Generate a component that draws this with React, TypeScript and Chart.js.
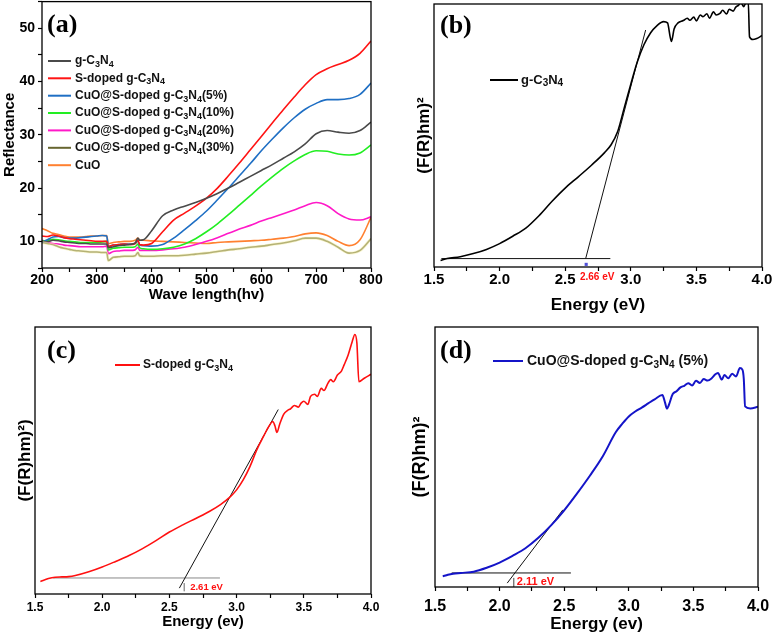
import React, { useEffect, useRef } from 'react';
import { Chart, registerables } from 'chart.js';

Chart.register(...registerables);

const FONT = '"Liberation Sans", Arial, Helvetica, sans-serif';
const SERIF = '"Liberation Serif", "Times New Roman", serif';
Chart.defaults.font.family = FONT;

// ---------------- Panel (a): reflectance ----------------
const waveX = [200, 210, 220, 230, 240, 250, 260, 270, 280, 290, 300, 310, 318, 321, 330, 340, 350, 360, 370, 375, 378, 385, 400, 420, 440, 460, 480, 500, 520, 540, 560, 580, 600, 620, 640, 660, 680, 700, 720, 740, 760, 780, 800];
const gC3N4 = [10.0, 9.9, 10.2, 10.1, 9.9, 9.8, 9.7, 9.6, 9.6, 9.5, 9.5, 9.5, 9.5, 8.8, 9.0, 9.2, 9.3, 9.4, 9.7, 10.6, 10.2, 10.3, 12.0, 14.8, 15.9, 16.6, 17.3, 18.1, 19.0, 20.0, 21.1, 22.2, 23.3, 24.4, 25.6, 26.8, 28.3, 30.2, 30.8, 30.5, 30.3, 30.8, 32.4];
const sDoped = [11.0, 10.9, 11.2, 11.0, 10.7, 10.5, 10.4, 10.3, 10.2, 10.1, 10.0, 10.0, 10.0, 9.0, 9.3, 9.4, 9.5, 9.4, 9.6, 10.2, 9.4, 9.3, 9.6, 11.8, 14.0, 15.3, 16.6, 18.1, 20.0, 22.3, 24.7, 27.2, 29.7, 32.2, 34.7, 37.1, 39.4, 41.3, 42.4, 43.2, 44.0, 45.3, 47.6];
const cuo5 = [9.8, 10.3, 10.8, 10.9, 10.7, 10.6, 10.6, 10.7, 10.8, 10.9, 11.0, 11.1, 11.0, 9.0, 9.3, 9.4, 9.5, 9.5, 9.6, 10.1, 9.3, 9.2, 9.1, 9.4, 10.6, 12.2, 13.9, 15.7, 17.8, 20.0, 22.3, 24.6, 27.0, 29.2, 31.3, 33.2, 34.8, 35.9, 36.6, 36.6, 36.8, 37.6, 39.7];
const cuo10 = [10.0, 10.2, 10.4, 10.3, 10.1, 10.0, 9.9, 9.8, 9.8, 9.8, 9.8, 9.9, 10.0, 8.4, 8.7, 8.8, 8.9, 8.9, 9.0, 9.5, 8.8, 8.6, 8.5, 8.6, 8.9, 9.5, 10.5, 11.8, 13.3, 15.0, 16.8, 18.6, 20.4, 22.1, 23.7, 25.1, 26.3, 27.0, 26.9, 26.4, 26.2, 26.6, 28.1];
const cuo20 = [10.2, 9.9, 9.6, 9.5, 9.3, 9.2, 9.1, 9.0, 9.0, 9.0, 9.0, 9.0, 9.1, 7.7, 8.1, 8.2, 8.3, 8.3, 8.4, 8.9, 8.3, 8.3, 8.3, 8.4, 8.6, 8.9, 9.4, 10.0, 10.7, 11.5, 12.3, 13.0, 13.8, 14.5, 15.2, 15.9, 16.7, 17.3, 16.7, 15.2, 14.2, 14.0, 14.6];
const cuo30 = [9.8, 9.6, 9.4, 9.0, 8.7, 8.5, 8.3, 8.2, 8.1, 8.0, 8.0, 7.9, 7.9, 6.4, 7.0, 7.1, 7.2, 7.2, 7.3, 7.9, 7.3, 7.2, 7.2, 7.3, 7.3, 7.4, 7.6, 7.8, 8.1, 8.4, 8.6, 8.9, 9.1, 9.4, 9.7, 10.1, 10.6, 10.6, 10.0, 8.9, 7.8, 8.3, 10.5];
const cuoPure = [12.4, 12.0, 11.5, 11.3, 11.0, 10.8, 10.8, 10.8, 10.9, 11.0, 11.0, 11.1, 11.1, 9.6, 9.8, 9.9, 10.0, 10.0, 10.2, 10.6, 10.2, 10.2, 10.1, 10.0, 9.9, 9.8, 9.7, 9.6, 9.8, 9.9, 10.0, 10.1, 10.2, 10.4, 10.6, 10.9, 11.4, 11.6, 11.1, 10.0, 9.2, 10.3, 14.5];
const aLabels = ['g-C₃N₄', 'S-doped g-C₃N₄', 'CuO@S-doped g-C₃N₄(5%)', 'CuO@S-doped g-C₃N₄(10%)', 'CuO@S-doped g-C₃N₄(20%)', 'CuO@S-doped g-C₃N₄(30%)', 'CuO'];
const aColors = ['#4a4a4a', '#ff1414', '#1f6fc4', '#22ee22', '#ff19c8', '#676630', '#ff8030'];
const aXTicks = ['200', '300', '400', '500', '600', '700', '800'];
const aYTicks = ['10', '20', '30', '40', '50'];

// ---------------- Energy tick labels (b, c, d) ----------------
const eTicks = ['1.5', '2.0', '2.5', '3.0', '3.5', '4.0'];

// ---------------- Panel (b): g-C3N4 Tauc ----------------
const eB = [1.55, 1.6, 1.7, 1.8, 1.9, 2.0, 2.1, 2.2, 2.3, 2.4, 2.5, 2.6, 2.7, 2.8, 2.85, 2.9, 2.95, 3.0, 3.05, 3.1, 3.15, 3.2, 3.25, 3.28, 3.3, 3.31, 3.33, 3.36, 3.40, 3.43, 3.45, 3.48, 3.50, 3.53, 3.55, 3.58, 3.60, 3.63, 3.65, 3.68, 3.70, 3.73, 3.75, 3.78, 3.80, 3.82, 3.84, 3.86, 3.88, 3.895, 3.905, 3.93, 3.96, 4.0];
const fB = [2.5, 3.2, 3.9, 5.1, 6.7, 8.9, 11.7, 14.8, 19.5, 25.0, 30.0, 34.3, 38.7, 43.5, 46.5, 51.5, 60.5, 69.5, 78.0, 84.5, 89.0, 91.8, 93.3, 92.8, 87.5, 85.8, 90.5, 92.8, 93.7, 94.6, 93.8, 95.0, 93.6, 95.8, 95.2, 96.3, 94.6, 97.0, 95.8, 96.4, 97.6, 96.2, 98.0, 97.3, 98.8, 99.5, 100.5, 99.0, 100.8, 101, 87.5, 86.5, 86.9, 88.0];
const bGap = 2.66;
const bTangent = [[2.656, 3.2], [3.113, 90.1]];
const bBase = [[1.556, 3.2], [2.844, 3.2]];
const bMarker = [[2.66, 1.0]];

// ---------------- Panel (c): S-doped g-C3N4 Tauc ----------------
const eC = [1.54, 1.6, 1.65, 1.7, 1.75, 1.8, 1.9, 2.0, 2.1, 2.2, 2.3, 2.4, 2.5, 2.6, 2.7, 2.8, 2.88, 2.95, 3.0, 3.05, 3.1, 3.15, 3.2, 3.24, 3.27, 3.285, 3.30, 3.32, 3.35, 3.38, 3.40, 3.43, 3.46, 3.48, 3.50, 3.53, 3.55, 3.58, 3.60, 3.63, 3.65, 3.68, 3.70, 3.72, 3.75, 3.78, 3.80, 3.83, 3.86, 3.88, 3.895, 3.91, 3.95, 4.0];
const fC = [4.7, 5.8, 6.3, 6.4, 6.5, 6.9, 8.3, 10.1, 12.2, 14.4, 17.0, 20.0, 23.2, 25.9, 28.4, 31.0, 33.5, 36.3, 39.0, 42.8, 47.8, 54.0, 59.0, 62.8, 64.6, 63.0, 60.5, 63.5, 67.3, 68.8, 69.3, 70.6, 70.0, 71.5, 72.2, 71.0, 74.0, 74.8, 74.0, 77.0, 76.2, 79.0, 80.3, 79.5, 82.0, 83.5, 85.8, 89.5, 94.5, 97.2, 94.0, 79.5, 80.8, 82.3];
const cGap = 2.61;
const cTangent = [[2.574, 2.2], [3.31, 69.1]];
const cBase = [[1.636, 6.0], [2.876, 6.0]];
const cMark = [[2.61, 1.0], [2.61, 4.1]];

// ---------------- Panel (d): CuO@S-doped g-C3N4 (5%) Tauc ----------------
const eD = [1.56, 1.6, 1.64, 1.7, 1.8, 1.9, 2.0, 2.1, 2.2, 2.3, 2.4, 2.5, 2.6, 2.7, 2.8, 2.9, 2.95, 3.0, 3.05, 3.1, 3.15, 3.2, 3.26, 3.28, 3.295, 3.31, 3.34, 3.37, 3.40, 3.43, 3.46, 3.49, 3.52, 3.55, 3.58, 3.61, 3.64, 3.67, 3.69, 3.72, 3.74, 3.77, 3.80, 3.83, 3.86, 3.88, 3.89, 3.90, 3.94, 4.0];
const fD = [4.1, 4.7, 5.1, 5.4, 5.9, 7.4, 9.4, 12.0, 14.9, 18.9, 23.8, 29.5, 36.0, 42.9, 50.4, 59.6, 62.8, 65.6, 67.5, 69.0, 70.6, 72.2, 73.8, 71.0, 68.6, 70.0, 74.2, 75.3, 76.8, 77.4, 78.4, 77.5, 79.3, 78.5, 80.0, 79.4, 80.2, 81.8, 82.3, 79.8, 81.5, 80.3, 82.0, 81.0, 84.2, 83.5, 80.0, 69.5, 68.7, 69.3];
const dGap = 2.11;
const dTangent = [[2.059, 1.5], [2.49, 29.7]];
const dBase = [[1.629, 5.4], [2.552, 5.4]];
const dMark = [[2.11, 0.0], [2.11, 3.5]];

// ---------------- helpers ----------------
const SUBS = '₀₁₂₃₄₅₆₇₈₉';

function drawRich(ctx: CanvasRenderingContext2D, text: string, x: number, y: number, size: number, weight: string, color: string) {
  ctx.fillStyle = color;
  ctx.textBaseline = 'middle';
  ctx.textAlign = 'left';
  let cx = x;
  let buf = '';
  const flush = () => {
    if (!buf) return;
    ctx.font = `${weight} ${size}px ${FONT}`;
    ctx.fillText(buf, cx, y);
    cx += ctx.measureText(buf).width;
    buf = '';
  };
  for (const ch of text) {
    const i = SUBS.indexOf(ch);
    if (i >= 0) {
      flush();
      const s = Math.round(size * 0.74);
      ctx.font = `${weight} ${s}px ${FONT}`;
      ctx.fillText(String(i), cx, y + size * 0.28);
      cx += ctx.measureText(String(i)).width;
    } else {
      buf += ch;
    }
  }
  flush();
}

function lineDs(xs: number[], ys: number[], color: string, width: number, label: string) {
  return {
    label,
    data: xs.map((x, i) => ({ x, y: ys[i] })),
    borderColor: color,
    backgroundColor: color,
    borderWidth: width,
    pointRadius: 0,
    fill: false,
    cubicInterpolationMode: 'monotone',
  };
}

function segDs(pts: number[][], color: string, width: number, label: string) {
  return {
    label,
    data: pts.map(([x, y]) => ({ x, y })),
    borderColor: color,
    backgroundColor: color,
    borderWidth: width,
    pointRadius: 0,
    tension: 0,
    fill: false,
  };
}

type LegendItem = { text: string; color: string; y: number };
type Spec = {
  id: string;
  box: { left: number; top: number; w: number; h: number };
  area: { left: number; top: number; right: number; bottom: number };
  x: { min: number; max: number; step: number; labels: string[]; tickSize: number; tickPad: number; title: string; titleSize: number; titleWeight: string; titlePad: number };
  y: { min: number; max: number; step: number; labels: string[] | null; tickSize: number; tickPad: number; title: string; titleSize: number; titlePad: number };
  datasets: any[];
  tag: { text: string; x: number; y: number };
  legend: { x0: number; x1: number; tx: number; size: number; lineWidth: number; items: LegendItem[] };
  gap?: { value: number; text: string; dx: number; dy: number; size: number; align: CanvasTextAlign };
};

function labelCb(labels: string[]) {
  return (v: number) => {
    const l = labels.find((s) => Math.abs(Number(s) - v) < 1e-6);
    return l === undefined ? '' : l;
  };
}

function zeroPad(s: any) {
  s.paddingTop = 0;
  s.paddingBottom = 0;
  s.paddingLeft = 0;
  s.paddingRight = 0;
}

function buildConfig(p: Spec): any {
  const decor = {
    id: 'decor_' + p.id,
    afterDraw(chart: any) {
      const { ctx, chartArea: ca, scales } = chart;
      ctx.save();
      ctx.strokeStyle = '#000';
      ctx.lineWidth = 1.3;
      ctx.strokeRect(ca.left, ca.top, ca.right - ca.left, ca.bottom - ca.top);
      // panel tag
      ctx.fillStyle = '#000';
      ctx.font = `bold 26px ${SERIF}`;
      ctx.textAlign = 'left';
      ctx.textBaseline = 'alphabetic';
      ctx.fillText(p.tag.text, p.tag.x, p.tag.y);
      // legend
      const lg = p.legend;
      lg.items.forEach((it) => {
        ctx.strokeStyle = it.color;
        ctx.lineWidth = lg.lineWidth;
        ctx.beginPath();
        ctx.moveTo(lg.x0, it.y);
        ctx.lineTo(lg.x1, it.y);
        ctx.stroke();
        drawRich(ctx, it.text, lg.tx, it.y, lg.size, 'bold', '#111');
      });
      // band gap label
      if (p.gap) {
        const px = scales.x.getPixelForValue(p.gap.value);
        ctx.fillStyle = '#ff1010';
        ctx.font = `bold ${p.gap.size}px ${FONT}`;
        ctx.textAlign = p.gap.align;
        ctx.textBaseline = 'middle';
        ctx.fillText(p.gap.text, px + p.gap.dx, ca.bottom + p.gap.dy);
      }
      ctx.restore();
    },
  };

  return {
    type: 'line',
    data: { datasets: p.datasets },
    plugins: [decor],
    options: {
      responsive: false,
      animation: false,
      events: [],
      layout: { padding: { left: 0, top: p.area.top, right: p.box.w - p.area.right, bottom: 0 } },
      plugins: { legend: { display: false }, tooltip: { enabled: false }, title: { display: false } },
      scales: {
        x: {
          type: 'linear',
          min: p.x.min,
          max: p.x.max,
          afterFit: (s: any) => {
            s.height = p.box.h - p.area.bottom;
            zeroPad(s);
          },
          ticks: {
            stepSize: p.x.step,
            autoSkip: false,
            maxRotation: 0,
            minRotation: 0,
            padding: p.x.tickPad,
            color: '#000',
            font: { size: p.x.tickSize, weight: 'bold', family: FONT },
            callback: labelCb(p.x.labels),
          },
          grid: { drawOnChartArea: false, drawTicks: true, tickLength: 4, tickColor: '#000', tickWidth: 1.2 },
          border: { display: false },
          title: {
            display: true,
            text: p.x.title,
            color: '#000',
            font: { size: p.x.titleSize, weight: p.x.titleWeight, family: FONT },
            padding: { top: 0, bottom: p.x.titlePad },
          },
        },
        y: {
          type: 'linear',
          min: p.y.min,
          max: p.y.max,
          afterFit: (s: any) => {
            s.width = p.area.left;
            zeroPad(s);
          },
          ticks: p.y.labels
            ? {
                stepSize: p.y.step,
                autoSkip: false,
                padding: p.y.tickPad,
                color: '#000',
                font: { size: p.y.tickSize, weight: 'bold', family: FONT },
                callback: labelCb(p.y.labels),
              }
            : { display: false },
          grid: p.y.labels
            ? { drawOnChartArea: false, drawTicks: true, tickLength: 4, tickColor: '#000', tickWidth: 1.2 }
            : { display: false },
          border: { display: false },
          title: {
            display: true,
            text: p.y.title,
            color: '#000',
            font: { size: p.y.titleSize, weight: 'bold', family: FONT },
            padding: { top: p.y.titlePad, bottom: 0 },
          },
        },
      },
    },
  };
}

// ---------------- panel specs ----------------
const aSeries = [gC3N4, sDoped, cuo5, cuo10, cuo20, cuo30, cuoPure];
const aLegendY = [61, 78.3, 95.7, 113, 130.4, 147.8, 165.2];

const specA: Spec = {
  id: 'a',
  box: { left: 0, top: 0, w: 390, h: 318 },
  area: { left: 42, top: 1.6, right: 371, bottom: 268 },
  x: { min: 200, max: 800, step: 50, labels: aXTicks, tickSize: 14, tickPad: 0, title: 'Wave length(hv)', titleSize: 15, titleWeight: 'bold', titlePad: 14 },
  y: { min: 5, max: 55, step: 5, labels: aYTicks, tickSize: 14, tickPad: 3, title: 'Reflectance', titleSize: 15, titlePad: 1 },
  datasets: [
    lineDs(waveX, cuo30, 'rgba(246,240,175,0.55)', 3, 'halo'),
    ...aSeries.map((s, i) => lineDs(waveX, s, aColors[i], 1.6, aLabels[i])),
  ],
  tag: { text: '(a)', x: 47, y: 32 },
  legend: { x0: 48, x1: 71, tx: 75, size: 12, lineWidth: 2, items: aLabels.map((t, i) => ({ text: t, color: aColors[i], y: aLegendY[i] })) },
};

const specB: Spec = {
  id: 'b',
  box: { left: 390, top: 0, w: 387, h: 318 },
  area: { left: 44, top: 3.5, right: 372, bottom: 267 },
  x: { min: 1.5, max: 4.0, step: 0.25, labels: eTicks, tickSize: 15, tickPad: 0, title: 'Energy (eV)', titleSize: 17, titleWeight: 'bold', titlePad: 2 },
  y: { min: 0, max: 100, step: 10, labels: null, tickSize: 12, tickPad: 0, title: '(F(R)hm)²', titleSize: 17, titlePad: 24 },
  datasets: [
    lineDs(eB, fB, '#000000', 1.6, 'g-C₃N₄'),
    segDs(bTangent, '#111111', 1, 'tangent'),
    segDs(bBase, '#111111', 1, 'baseline'),
    { label: 'gap', data: bMarker.map(([x, y]) => ({ x, y })), showLine: false, pointStyle: 'rect', pointRadius: 2.2, borderWidth: 0, backgroundColor: '#5050d8', borderColor: '#5050d8' },
  ],
  tag: { text: '(b)', x: 50, y: 33 },
  legend: { x0: 100, x1: 128, tx: 131, size: 13, lineWidth: 2, items: [{ text: 'g-C₃N₄', color: '#000', y: 80 }] },
  gap: { value: bGap, text: '2.66 eV', dx: 11, dy: 10, size: 10, align: 'center' },
};

const specC: Spec = {
  id: 'c',
  box: { left: 0, top: 318, w: 390, h: 319 },
  area: { left: 35, top: 9, right: 371, bottom: 276 },
  x: { min: 1.5, max: 4.0, step: 0.25, labels: eTicks, tickSize: 12, tickPad: 2, title: 'Energy (ev)', titleSize: 15, titleWeight: 'bold', titlePad: 6 },
  y: { min: 0, max: 100, step: 10, labels: null, tickSize: 12, tickPad: 0, title: '(F(R)hm)²)', titleSize: 17, titlePad: 15 },
  datasets: [
    lineDs(eC, fC, '#ff1010', 1.6, 'S-doped g-C₃N₄'),
    segDs(cTangent, '#111111', 1, 'tangent'),
    segDs(cBase, '#888888', 1, 'baseline'),
    segDs(cMark, '#666666', 1, 'mark'),
  ],
  tag: { text: '(c)', x: 47, y: 40 },
  legend: { x0: 115, x1: 140, tx: 143, size: 12, lineWidth: 2, items: [{ text: 'S-doped g-C₃N₄', color: '#ff1010', y: 47 }] },
  gap: { value: cGap, text: '2.61 eV', dx: 6, dy: -7, size: 9.5, align: 'left' },
};

const specD: Spec = {
  id: 'd',
  box: { left: 390, top: 318, w: 387, h: 319 },
  area: { left: 45, top: 9, right: 368, bottom: 269 },
  x: { min: 1.5, max: 4.0, step: 0.25, labels: eTicks, tickSize: 16, tickPad: 6, title: 'Energy (ev)', titleSize: 17, titleWeight: 'bold', titlePad: 2 },
  y: { min: 0, max: 100, step: 10, labels: null, tickSize: 12, tickPad: 0, title: '(F(R)hm)²', titleSize: 18, titlePad: 19 },
  datasets: [
    lineDs(eD, fD, '#1414c8', 2, 'CuO@S-doped g-C₃N₄ (5%)'),
    segDs(dTangent, '#111111', 1, 'tangent'),
    segDs(dBase, '#111111', 1, 'baseline'),
    segDs(dMark, '#444444', 1, 'mark'),
  ],
  tag: { text: '(d)', x: 50, y: 40 },
  legend: { x0: 103, x1: 133, tx: 137, size: 14, lineWidth: 2, items: [{ text: 'CuO@S-doped g-C₃N₄ (5%)', color: '#1414c8', y: 43 }] },
  gap: { value: dGap, text: '2.11 eV', dx: 3, dy: -5, size: 11, align: 'left' },
};

function Panel({ spec }: { spec: Spec }) {
  const ref = useRef<HTMLCanvasElement>(null);
  useEffect(() => {
    if (!ref.current) return;
    const chart = new Chart(ref.current, buildConfig(spec));
    return () => chart.destroy();
  }, [spec]);
  const { left, top, w, h } = spec.box;
  return (
    <div style={{ position: 'absolute', left, top, width: w, height: h }}>
      <canvas ref={ref} width={w} height={h} style={{ display: 'block', width: w, height: h }} />
    </div>
  );
}

export default function App() {
  return (
    <div style={{ position: 'absolute', left: 0, top: 0, width: 777, height: 637, background: '#fff', overflow: 'hidden' }}>
      <Panel spec={specA} />
      <Panel spec={specB} />
      <Panel spec={specC} />
      <Panel spec={specD} />
    </div>
  );
}
